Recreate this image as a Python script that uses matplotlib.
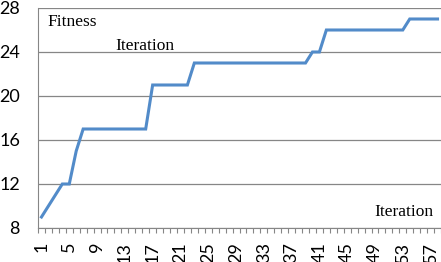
import matplotlib
matplotlib.use("Agg")
import matplotlib.pyplot as plt
import numpy as np

iterations = list(range(1, 59))
fitness = [9, 10, 11, 12, 12, 15] + [17] * 10 + [21] * 6 + [23] * 17 + [24] * 2 + [26] * 12 + [27] * 5
y_ticks = [8, 12, 16, 20, 24, 28]
x_labels = [str(i) for i in range(1, 59, 4)]

fig = plt.figure(figsize=(4.41, 2.62), dpi=100)
ax = fig.add_axes([38 / 441, 34 / 262, 403 / 441, 220 / 262])

x = np.arange(len(iterations))
ax.plot(x, fitness, color="#528BC9", lw=2.2, solid_joinstyle="miter")

ax.set_xlim(-0.5, len(iterations) - 0.5)
ax.set_ylim(8, 28)
ax.set_yticks(y_ticks)
ax.yaxis.grid(True, color="#868686", lw=0.9)
ax.set_axisbelow(True)

ax.set_xticks(x[::4])
ax.set_xticklabels(x_labels, rotation=90, fontsize=13, family="Lato", va="top")
ax.set_xticks(np.arange(len(iterations) + 1) - 0.5, minor=True)
ax.tick_params(axis="x", which="major", length=0, pad=10)
ax.tick_params(axis="x", which="minor", length=3.6, color="#868686", width=0.8)
ax.tick_params(axis="y", length=0, pad=13, labelsize=13)
for lbl in ax.get_yticklabels():
    lbl.set_family("Lato")

for s in ["top", "right"]:
    ax.spines[s].set_visible(False)
ax.spines["left"].set_color("#868686")
ax.spines["bottom"].set_color("#868686")

serif = dict(family="Liberation Serif", fontsize=12.5, va="center")
fig.text(47 / 441, 1 - 22 / 262, "Fitness", **serif)
fig.text(115 / 441, 1 - 46 / 262, "Iteration", **serif)
fig.text(374 / 441, 1 - 212 / 262, "Iteration", **serif)

fig.savefig("out.png", dpi=100)
